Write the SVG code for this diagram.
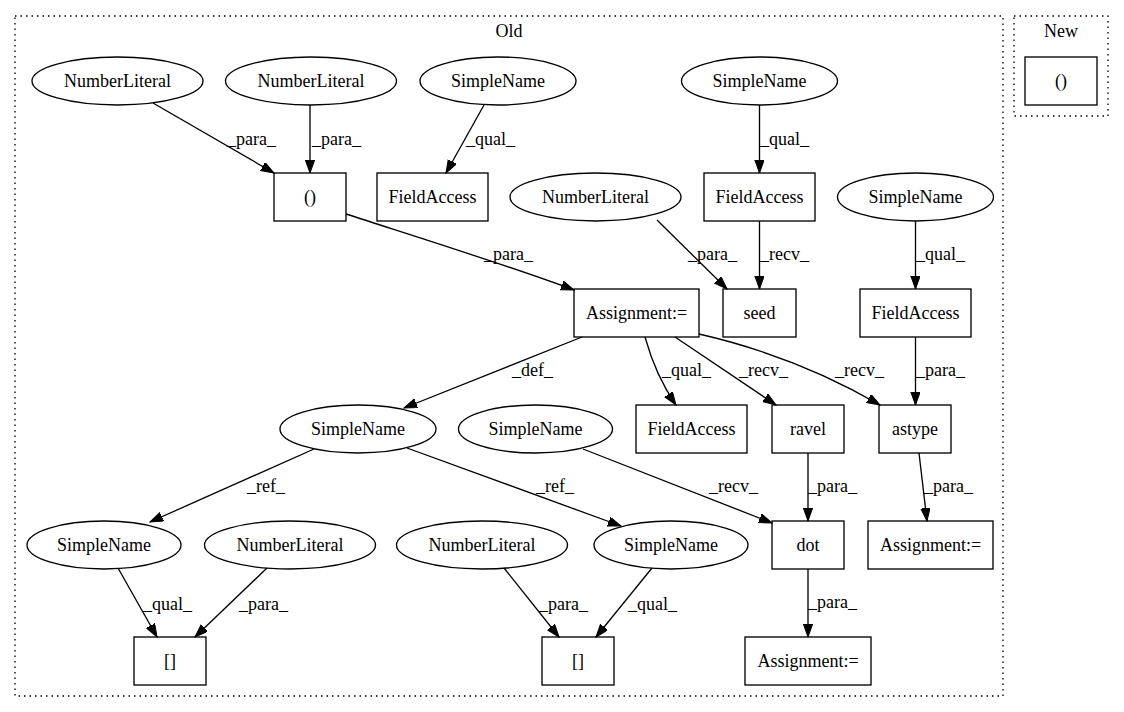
<svg xmlns="http://www.w3.org/2000/svg" width="1124" height="712" viewBox="0 0 1124 712" font-family="'Liberation Serif', 'DejaVu Serif', serif">
<style>
text { font-family: "Liberation Serif", "DejaVu Serif", serif; font-size: 18px; fill: #000; }
.n text { text-anchor: middle; }
.n rect, .n ellipse { fill: none; stroke: #000; stroke-width: 1.33; }
.cl { fill: none; stroke: #000; stroke-width: 1.33; stroke-dasharray: 1.5,4; }
#edges path { fill: none; stroke: #000; stroke-width: 1.33; marker-end: url(#arr); }
.ct { text-anchor: middle; }
</style>
<defs>
<marker id="arr" markerUnits="userSpaceOnUse" markerWidth="14" markerHeight="10" refX="13" refY="4.67" orient="auto">
<polygon points="0,0 13,4.67 0,9.33" fill="#000" stroke="#000" stroke-width="1"/>
</marker>
</defs>
<rect width="1124" height="712" fill="#fff"/>
<g id="cluster_old">
<rect class="cl" x="15" y="16" width="988" height="680"/>
<text class="ct" x="509" y="37">Old</text>
</g>
<g id="cluster_new">
<rect class="cl" x="1014" y="16" width="94" height="100"/>
<text class="ct" x="1061" y="37">New</text>
</g>
<g id="n_new_paren" class="n"><rect x="1025" y="57" width="72" height="48"/><text x="1061" y="87">()</text></g>

<g id="n_A" class="n"><ellipse cx="117.5" cy="81" rx="85.5" ry="24"/><text x="117.5" y="87">NumberLiteral</text></g>
<g id="n_B" class="n"><ellipse cx="311" cy="81" rx="85.5" ry="24"/><text x="311" y="87">NumberLiteral</text></g>
<g id="n_C" class="n"><ellipse cx="498" cy="81" rx="78" ry="24"/><text x="498" y="87">SimpleName</text></g>
<g id="n_D" class="n"><ellipse cx="759.5" cy="81" rx="78" ry="24"/><text x="759.5" y="87">SimpleName</text></g>

<g id="n_P" class="n"><rect x="274" y="173" width="72" height="48"/><text x="310" y="203">()</text></g>
<g id="n_FA1" class="n"><rect x="377" y="173" width="111" height="48"/><text x="432.5" y="203">FieldAccess</text></g>
<g id="n_E" class="n"><ellipse cx="595.5" cy="197" rx="85.5" ry="24"/><text x="595.5" y="203">NumberLiteral</text></g>
<g id="n_FA2" class="n"><rect x="704" y="173" width="111" height="48"/><text x="759.5" y="203">FieldAccess</text></g>
<g id="n_F" class="n"><ellipse cx="915.5" cy="197" rx="78" ry="24"/><text x="915.5" y="203">SimpleName</text></g>

<g id="n_AS" class="n"><rect x="574" y="289" width="125" height="48"/><text x="636.5" y="319">Assignment:=</text></g>
<g id="n_seed" class="n"><rect x="723" y="289" width="73" height="48"/><text x="759.5" y="319">seed</text></g>
<g id="n_FA3" class="n"><rect x="860" y="289" width="111" height="48"/><text x="915.5" y="319">FieldAccess</text></g>

<g id="n_G" class="n"><ellipse cx="358" cy="429" rx="78" ry="24"/><text x="358" y="435">SimpleName</text></g>
<g id="n_H" class="n"><ellipse cx="535.5" cy="429" rx="77" ry="24"/><text x="535.5" y="435">SimpleName</text></g>
<g id="n_FA4" class="n"><rect x="636" y="405" width="111" height="48"/><text x="691.5" y="435">FieldAccess</text></g>
<g id="n_ravel" class="n"><rect x="772" y="405" width="72" height="48"/><text x="808" y="435">ravel</text></g>
<g id="n_astype" class="n"><rect x="879" y="405" width="72" height="48"/><text x="915" y="435">astype</text></g>

<g id="n_I" class="n"><ellipse cx="104" cy="545" rx="77" ry="24"/><text x="104" y="551">SimpleName</text></g>
<g id="n_J" class="n"><ellipse cx="290" cy="545" rx="85.5" ry="24"/><text x="290" y="551">NumberLiteral</text></g>
<g id="n_K" class="n"><ellipse cx="482" cy="545" rx="85.5" ry="24"/><text x="482" y="551">NumberLiteral</text></g>
<g id="n_L" class="n"><ellipse cx="671" cy="545" rx="77" ry="24"/><text x="671" y="551">SimpleName</text></g>
<g id="n_dot" class="n"><rect x="772" y="521" width="72" height="48"/><text x="808" y="551">dot</text></g>
<g id="n_AS2" class="n"><rect x="868" y="521" width="125" height="48"/><text x="930.5" y="551">Assignment:=</text></g>

<g id="n_BR1" class="n"><rect x="134" y="637" width="72" height="48"/><text x="170" y="667">[]</text></g>
<g id="n_BR2" class="n"><rect x="542" y="637" width="72" height="48"/><text x="578" y="667">[]</text></g>
<g id="n_AS3" class="n"><rect x="745" y="637" width="126" height="48"/><text x="808" y="667">Assignment:=</text></g>

<g id="edges">
<path d="M153,103 L274,173"/>
<path d="M310,105 L310,173"/>
<path d="M484,105 L446,173"/>
<path d="M759.5,105 L759.5,173"/>
<path d="M346,214 C420,238 510,266 574,290"/>
<path d="M657,220 L727,289"/>
<path d="M759.5,221 L759.5,289"/>
<path d="M915.5,221 L915.5,289"/>
<path d="M582,337 L404,408"/>
<path d="M645,337 C650,355 660,382 676,405"/>
<path d="M675,337 L776,405"/>
<path d="M699,334 C760,348 820,370 880,405"/>
<path d="M915.5,337 L915.5,405"/>
<path d="M314,449 L150,522"/>
<path d="M407,448 L621,526"/>
<path d="M583,449 L772,523"/>
<path d="M808,453 L808,521"/>
<path d="M919,453 L927,521"/>
<path d="M118,568 L157,637"/>
<path d="M267,568 L195,637"/>
<path d="M504,568 L559,637"/>
<path d="M652,568 L596,637"/>
<path d="M808,569 L808,637"/>
<text x="227" y="145">_para_</text>
<text x="312" y="145">_para_</text>
<text x="466" y="145">_qual_</text>
<text x="760" y="145">_qual_</text>
<text x="484" y="260">_para_</text>
<text x="688" y="260">_para_</text>
<text x="760" y="260">_recv_</text>
<text x="916" y="260">_qual_</text>
<text x="512" y="376">_def_</text>
<text x="662" y="376">_qual_</text>
<text x="739" y="376">_recv_</text>
<text x="835" y="376">_recv_</text>
<text x="916" y="376">_para_</text>
<text x="247" y="492">_ref_</text>
<text x="536" y="492">_ref_</text>
<text x="709" y="492">_recv_</text>
<text x="808" y="492">_para_</text>
<text x="924" y="492">_para_</text>
<text x="143" y="610">_qual_</text>
<text x="239" y="610">_para_</text>
<text x="539" y="610">_para_</text>
<text x="628" y="610">_qual_</text>
<text x="808" y="608">_para_</text>
</g>
</svg>
